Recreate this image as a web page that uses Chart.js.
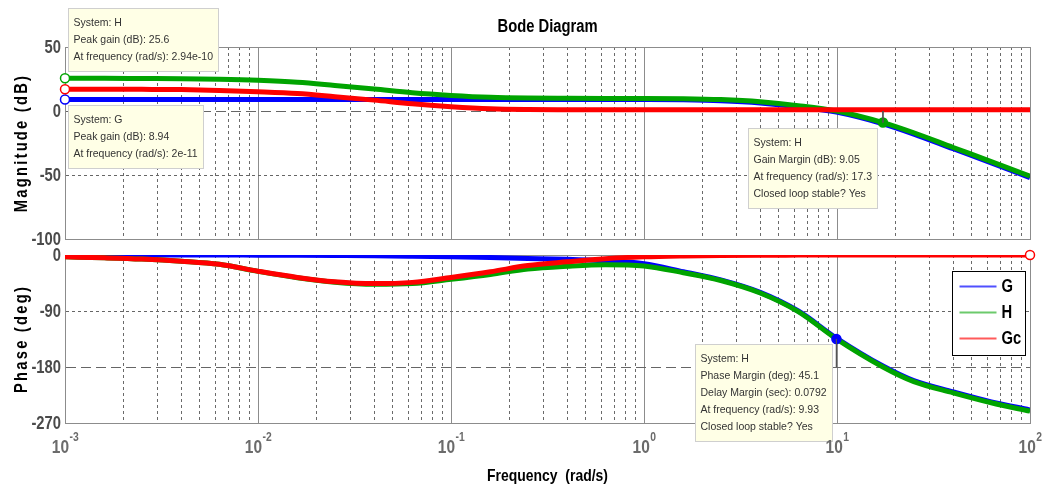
<!DOCTYPE html>
<html>
<head>
<meta charset="utf-8">
<title>Bode Diagram</title>
<script src="https://cdn.jsdelivr.net/npm/chart.js@4.4.0/dist/chart.umd.min.js"></script>
<style>
  html, body { margin: 0; padding: 0; background: #fff; }
  #wrap { position: relative; width: 1043px; height: 484px; overflow: hidden; }
  canvas { position: absolute; left: 0; top: 0; }
</style>
</head>
<body>
<div id="wrap">
  <canvas id="mag" width="1043" height="484"></canvas>
  <canvas id="phase" width="1043" height="484"></canvas>
</div>
<script>
// Frequency grid (rad/s)
const freq = [0.001, 0.0016, 0.0025, 0.004, 0.0063, 0.01, 0.016, 0.025, 0.04, 0.063,
              0.1, 0.16, 0.25, 0.4, 0.63, 1, 1.6, 2.5, 4, 6.3, 9.93, 17.3, 25, 40, 63, 100];

// Magnitude responses (dB)
const magG  = [8.94, 8.94, 8.94, 8.94, 8.94, 8.94, 8.94, 8.94, 8.94, 8.94,
               8.94, 8.94, 8.94, 8.94, 8.93, 8.9, 8.7, 8.0, 6.3, 3.3, -0.9, -10.0, -18.0, -29.5, -40.5, -52.0];
const magH  = [25.6, 25.6, 25.4, 25.2, 24.8, 24.0, 22.5, 20.0, 17.2, 14.3,
               12.2, 10.7, 10.1, 9.9, 9.8, 9.8, 9.6, 8.9, 7.2, 4.2, 0.0, -9.05, -17.0, -28.5, -39.5, -51.0];
const magGc = [17.0, 17.0, 16.9, 16.7, 16.0, 15.0, 13.6, 11.2, 8.5, 5.6,
               3.4, 1.8, 1.2, 1.0, 0.9, 0.9, 0.9, 0.9, 0.9, 0.9, 0.9, 0.9, 0.9, 0.9, 0.9, 0.9];

// Phase responses (deg)
const phaseG  = [0, 0, 0, 0, 0, -0.3, -0.5, -0.8, -1.2, -2,
                 -3, -4.2, -5.5, -7, -9.5, -14, -27, -40, -60, -90, -133.5, -178.5, -202, -220, -236, -249];
const phaseH  = [-3, -4.5, -6.5, -10, -15, -26.3, -36.5, -43.8, -47.2, -46,
                 -39, -31.2, -22.5, -18, -15.5, -17.5, -28.5, -41, -61, -91, -134.9, -180, -203.5, -221.5, -237.5, -251];
const phaseGc = [-3, -4.5, -6.5, -10, -15, -26, -36, -43, -46, -44,
                 -36, -27, -17, -11, -6, -3, -1.5, -0.7, -0.3, -0.2, -0.1, 0, 0, 0, 0, 0];

const seriesNames = ['G', 'H', 'Gc'];
const decades = [-3, -2, -1, 0, 1, 2];
const magTicks = [-100, -50, 0, 50];
const phaseTicks = [-270, -180, -90, 0];

// Response characteristics shown in the data tips
const peakH = { gain: 25.6, at: '2.94e-10' };
const peakG = { gain: 8.94, at: '2e-11' };
const gainMargin = { db: 9.05, freq: 17.3 };
const phaseMargin = { deg: 45.1, delay: 0.0792, freq: 9.93 };

const COLORS = { G: '#0000ff', H: '#00a400', Gc: '#ff0000' };
const LEGEND_COLORS = ['#5050ff', '#6cca6c', '#ff5a5a'];
const SANS = '"Liberation Sans", Arial, sans-serif';
const NARROW_X = 0.82;   // horizontal squeeze for the condensed bold labels

function isDecade(v) {
  const l = Math.log10(v);
  return Math.abs(l - Math.round(l)) < 1e-6;
}
function freqTickValues() {
  const out = [];
  for (let d = decades[0]; d < decades[decades.length - 1]; d++) {
    for (let m = 1; m <= 9; m++) out.push(m * Math.pow(10, d));
  }
  out.push(Math.pow(10, decades[decades.length - 1]));
  return out;
}

function freqAxis(height) {
  return {
    type: 'logarithmic',
    min: freq[0],
    max: freq[freq.length - 1],
    afterBuildTicks: s => { s.ticks = freqTickValues().map(v => ({ value: v })); },
    ticks: { display: false },
    grid: {
      drawTicks: false,
      lineWidth: 1,
      color: c => (c.tick && isDecade(c.tick.value)) ? '#8c8c8c' : '#6a6a6a'
    },
    border: {
      display: true,
      color: '#8c8c8c',
      dash: c => (c.tick && !isDecade(c.tick.value)) ? [3, 3] : []
    },
    afterFit: s => { s.height = height; }
  };
}

function valueAxis(ticks, dashes) {
  return {
    min: ticks[0],
    max: ticks[ticks.length - 1],
    afterBuildTicks: s => { s.ticks = ticks.map(v => ({ value: v })); },
    ticks: { display: false },
    grid: {
      drawTicks: false,
      lineWidth: 1,
      color: c => (c.tick && dashes[c.tick.value]) ? '#666' : '#8c8c8c'
    },
    border: {
      display: true,
      color: '#8c8c8c',
      dash: c => (c.tick && dashes[c.tick.value]) ? dashes[c.tick.value] : []
    },
    afterFit: s => { s.width = 65; }
  };
}

function curve(label, values, color, order) {
  return {
    label, data: values, order,
    borderColor: color, backgroundColor: color,
    borderWidth: 5, pointRadius: 0, fill: false,
    cubicInterpolationMode: 'monotone'
  };
}

// Text helper: optional rotation, horizontal squeeze and letter spacing
function text(ctx, str, x, y, o) {
  ctx.save();
  ctx.translate(x, y);
  if (o.rotate) ctx.rotate(o.rotate);
  ctx.scale(o.sx || 1, 1);
  ctx.font = o.font;
  ctx.fillStyle = o.color || '#000';
  ctx.textAlign = o.align || 'left';
  ctx.textBaseline = o.baseline || 'alphabetic';
  if (o.spacing) ctx.letterSpacing = o.spacing;
  ctx.fillText(str, 0, 0);
  ctx.restore();
}

function tipBox(chart, tip) {
  const ctx = chart.ctx;
  const px = chart.scales.x.getPixelForValue(tip.x);
  const py = chart.scales.y.getPixelForValue(tip.y);
  ctx.save();
  ctx.font = '10.5px ' + SANS;
  const w = Math.round(Math.max(...tip.lines.map(t => ctx.measureText(t).width)) + 11);
  const h = tip.lines.length * 17 + 12;
  const left = Math.round(tip.right ? px + tip.dx - w : px + tip.dx) + 0.5;
  const top = Math.round(py + tip.dy) + 0.5;
  ctx.fillStyle = '#ffffe6';
  ctx.fillRect(left, top, w, h);
  ctx.strokeStyle = '#cfcfcf';
  ctx.lineWidth = 1;
  ctx.strokeRect(left, top, w, h);
  ctx.fillStyle = '#333';
  ctx.textBaseline = 'middle';
  tip.lines.forEach((t, i) => ctx.fillText(t, left + 5, top + 15 + i * 17));
  ctx.restore();
}

// Titles, tick labels, data tips and legend
const annotations = {
  id: 'bodeAnnotations',
  afterDatasetsDraw(chart, args, opts) {
    const ctx = chart.ctx;
    const ca = chart.chartArea;
    const sy = chart.scales.y;

    // value tick labels
    sy.ticks.forEach(t => {
      text(ctx, String(t.value), ca.left - 4, sy.getPixelForValue(t.value) + 1, {
        font: 'bold 18px ' + SANS, sx: NARROW_X, align: 'right', baseline: 'middle', color: '#4a4a4a'
      });
    });

    // rotated axis title
    text(ctx, opts.yTitle, 22, (ca.top + ca.bottom) / 2, {
      font: 'bold 18px ' + SANS, sx: NARROW_X, rotate: -Math.PI / 2,
      align: 'center', baseline: 'middle', spacing: '2.7px'
    });

    if (opts.title) {
      text(ctx, opts.title, (ca.left + ca.right) / 2, 27, {
        font: 'bold 18px ' + SANS, sx: NARROW_X, align: 'center', baseline: 'middle'
      });
    }

    (opts.tips || []).forEach(t => tipBox(chart, t));
  },
  afterDraw(chart, args, opts) {
    const ctx = chart.ctx;
    const ca = chart.chartArea;
    if (opts.freqLabels) {
      const sx = chart.scales.x;
      decades.forEach(d => {
        const x = sx.getPixelForValue(Math.pow(10, d));
        ctx.font = 'bold 18px ' + SANS;
        const wb = ctx.measureText('10').width * 0.86;
        ctx.font = 'bold 12px ' + SANS;
        const ws = ctx.measureText(String(d)).width * 0.86;
        const left = x - (wb + ws) / 2;
        text(ctx, '10', left, ca.bottom + 30, { font: 'bold 18px ' + SANS, sx: 0.86, color: '#6b6b6b' });
        text(ctx, String(d), left + wb + 0.5, ca.bottom + 18, { font: 'bold 12px ' + SANS, sx: 0.86, color: '#6b6b6b' });
      });
      text(ctx, opts.xTitle, (ca.left + ca.right) / 2, 481, {
        font: 'bold 17px ' + SANS, sx: NARROW_X, align: 'center'
      });
    }
    if (opts.legend) {
      const L = Math.round(ca.right - 78) + 0.5, T = Math.round(ca.top + 16) + 0.5;
      const W = 73, H = 84;
      ctx.save();
      ctx.fillStyle = '#fff';
      ctx.fillRect(L, T, W, H);
      ctx.strokeStyle = '#000';
      ctx.lineWidth = 1;
      ctx.strokeRect(L, T, W, H);
      seriesNames.forEach((name, i) => {
        const y = T + 15 + i * 26;
        ctx.strokeStyle = LEGEND_COLORS[i];
        ctx.lineWidth = 2;
        ctx.beginPath();
        ctx.moveTo(L + 7, y);
        ctx.lineTo(L + 44, y);
        ctx.stroke();
        text(ctx, name, L + 49, y + 1, { font: 'bold 18px ' + SANS, sx: NARROW_X, baseline: 'middle' });
      });
      ctx.restore();
    }
  }
};

const fmt = v => String(v);

// Magnitude panel
new Chart(document.getElementById('mag'), {
  type: 'line',
  data: {
    labels: freq,
    datasets: [
      curve('G', magG, COLORS.G, 3),
      curve('H', magH, COLORS.H, 2),
      curve('Gc', magGc, COLORS.Gc, 1),
      {
        label: 'gain margin',
        data: [{ x: gainMargin.freq, y: 0 }, { x: gainMargin.freq, y: -gainMargin.db }],
        borderColor: '#555', borderWidth: 1, pointRadius: 0, order: 0
      },
      {
        type: 'scatter',
        label: 'markers',
        data: [
          { x: freq[0], y: peakG.gain },
          { x: freq[0], y: magGc[0] },
          { x: freq[0], y: peakH.gain },
          { x: gainMargin.freq, y: -gainMargin.db }
        ],
        pointRadius: 4.5,
        pointBorderWidth: 1.5,
        pointBorderColor: [COLORS.G, COLORS.Gc, COLORS.H, COLORS.H],
        pointBackgroundColor: ['#fff', '#fff', '#fff', COLORS.H],
        clip: false,
        order: 0
      }
    ]
  },
  options: {
    responsive: false,
    animation: false,
    events: [],
    layout: { padding: { left: 0, right: 13, top: 47, bottom: 245 } },
    scales: {
      x: freqAxis(0),
      y: valueAxis(magTicks, { '0': [10, 5], '-50': [3, 3] })
    },
    plugins: {
      legend: { display: false },
      tooltip: { enabled: false },
      title: { display: false },
      bodeAnnotations: {
        title: 'Bode Diagram',
        yTitle: 'Magnitude (dB)',
        tips: [
          { x: freq[0], y: peakH.gain, dx: 3, dy: -70,
            lines: ['System: H', 'Peak gain (dB): ' + fmt(peakH.gain), 'At frequency (rad/s): ' + peakH.at] },
          { x: freq[0], y: peakG.gain, dx: 3, dy: 5,
            lines: ['System: G', 'Peak gain (dB): ' + fmt(peakG.gain), 'At frequency (rad/s): ' + peakG.at] },
          { x: gainMargin.freq, y: -gainMargin.db, dx: -6, dy: 5, right: true,
            lines: ['System: H', 'Gain Margin (dB): ' + fmt(gainMargin.db),
                    'At frequency (rad/s): ' + fmt(gainMargin.freq), 'Closed loop stable? Yes'] }
        ]
      }
    }
  },
  plugins: [annotations]
});

// Phase panel
new Chart(document.getElementById('phase'), {
  type: 'line',
  data: {
    labels: freq,
    datasets: [
      curve('G', phaseG, COLORS.G, 3),
      curve('H', phaseH, COLORS.H, 2),
      curve('Gc', phaseGc, COLORS.Gc, 1),
      {
        label: 'phase margin',
        data: [{ x: phaseMargin.freq, y: phaseMargin.deg - 180 }, { x: phaseMargin.freq, y: -180 }],
        borderColor: '#555', borderWidth: 1, pointRadius: 0, order: 0
      },
      {
        type: 'scatter',
        label: 'markers',
        data: [
          { x: phaseMargin.freq, y: phaseMargin.deg - 180 },
          { x: freq[freq.length - 1], y: phaseGc[phaseGc.length - 1] }
        ],
        pointRadius: 4.5,
        pointBorderWidth: 1.5,
        pointBorderColor: [COLORS.G, COLORS.Gc],
        pointBackgroundColor: [COLORS.G, '#fff'],
        clip: false,
        order: 0
      }
    ]
  },
  options: {
    responsive: false,
    animation: false,
    events: [],
    layout: { padding: { left: 0, right: 13, top: 255, bottom: 0 } },
    scales: {
      x: freqAxis(61),
      y: valueAxis(phaseTicks, { '-90': [3, 3], '-180': [10, 5] })
    },
    plugins: {
      legend: { display: false },
      tooltip: { enabled: false },
      title: { display: false },
      bodeAnnotations: {
        yTitle: 'Phase (deg)',
        xTitle: 'Frequency  (rad/s)',
        freqLabels: true,
        legend: true,
        tips: [
          { x: phaseMargin.freq, y: phaseMargin.deg - 180, dx: -4, dy: 5, right: true,
            lines: ['System: H', 'Phase Margin (deg): ' + fmt(phaseMargin.deg),
                    'Delay Margin (sec): ' + fmt(phaseMargin.delay),
                    'At frequency (rad/s): ' + fmt(phaseMargin.freq), 'Closed loop stable? Yes'] }
        ]
      }
    }
  },
  plugins: [annotations]
});
</script>
</body>
</html>
